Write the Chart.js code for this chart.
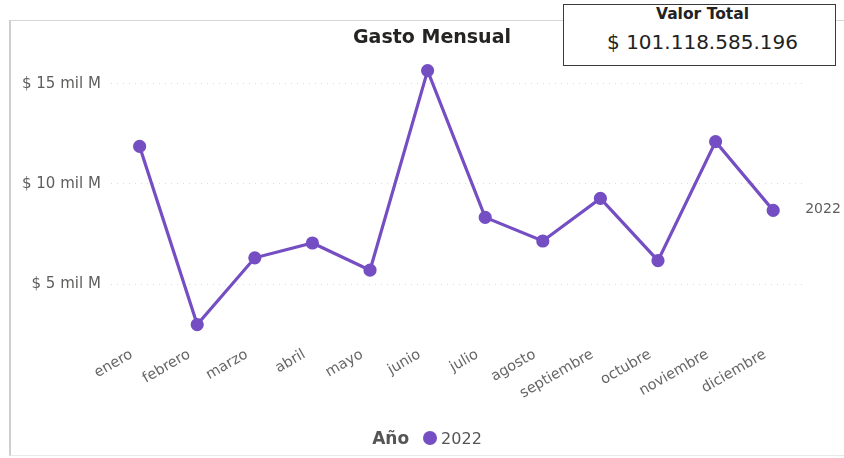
<!DOCTYPE html>
<html>
<head>
<meta charset="utf-8">
<script src="https://cdn.jsdelivr.net/npm/chart.js@4"></script>
<style>
  html, body { margin: 0; padding: 0; background: #fff; }
  #wrap { position: relative; width: 844px; height: 458px; overflow: hidden; font-family: "DejaVu Sans", sans-serif; }
  #frame { position: absolute; left: 9px; top: 20px; width: 835px; height: 436px; border-left: 2px solid #cfcfcf; border-top: 1px solid #d6d6d6; border-bottom: 1px solid #e8e8e8; box-sizing: border-box; }
  canvas { position: absolute; left: 0; top: 0; }
  #title { position: absolute; left: 0; width: 864px; top: 24px; text-align: center; font-weight: bold; font-size: 19px; color: #252423; line-height: 24px; }
  #legend { position: absolute; left: 5px; width: 844px; top: 428px; text-align: center; font-size: 16px; color: #555; line-height: 20px; }
  #legend b { color: #555; font-size: 17px; margin-right: 14px; }
  #legend .dot { display: inline-block; width: 14px; height: 14px; border-radius: 50%; background: #744EC2; vertical-align: -1px; margin-right: 4px; }
  #card { position: absolute; left: 563px; top: 4px; width: 273px; height: 62px; border: 1.5px solid #3a3a3a; background: #fff; box-sizing: border-box; text-align: center; color: #222; padding-left: 6px; }
  #card .t { font-weight: bold; font-size: 15.5px; margin-top: 0px; line-height: 18px; }
  #card .v { font-size: 20px; margin-top: 8px; line-height: 22px; }
</style>
</head>
<body>
<div id="wrap">
  <div id="frame"></div>
  <canvas id="c" width="844" height="458"></canvas>
  <div id="title">Gasto Mensual</div>
  <div id="legend"><b>Año</b><span class="dot"></span>2022</div>
  <div id="card"><div class="t">Valor Total</div><div class="v">$ 101.118.585.196</div></div>
</div>
<script>
const months = ["enero","febrero","marzo","abril","mayo","junio","julio","agosto","septiembre","octubre","noviembre","diciembre"];
const gasto2022 = [11.88, 2.97, 6.31, 7.05, 5.69, 15.67, 8.33, 7.15, 9.28, 6.17, 12.12, 8.68]; // mil M
const yTicks = [5, 10, 15];
const seriesName = "2022";
const purple = "#744EC2";

const endLabel = {
  id: 'endLabel',
  afterDatasetsDraw(chart) {
    const ctx = chart.ctx;
    const meta = chart.getDatasetMeta(0);
    const last = meta.data[meta.data.length - 1];
    ctx.save();
    ctx.font = '14px "DejaVu Sans", sans-serif';
    ctx.fillStyle = '#605e5c';
    ctx.textBaseline = 'middle';
    ctx.textAlign = 'left';
    ctx.fillText(seriesName, last.x + 32, last.y - 1);
    ctx.restore();
  }
};

new Chart(document.getElementById('c'), {
  type: 'line',
  data: {
    labels: months,
    datasets: [{
      label: seriesName,
      data: gasto2022,
      borderColor: purple,
      backgroundColor: purple,
      borderWidth: 3.2,
      pointRadius: 5,
      pointHoverRadius: 5,
      pointBackgroundColor: purple,
      pointBorderColor: purple,
      tension: 0
    }]
  },
  options: {
    responsive: false,
    animation: false,
    devicePixelRatio: 1,
    layout: { padding: { left: 12, right: 42, top: 60, bottom: 50 } },
    plugins: {
      title: { display: false },
      legend: { display: false },
      tooltip: { enabled: false }
    },
    scales: {
      x: {
        offset: true,
        grid: { display: false },
        border: { display: false },
        afterFit(scale) { scale.height = 70; },
        ticks: {
          color: '#666',
          font: { family: '"DejaVu Sans", sans-serif', size: 14.5 },
          maxRotation: 30,
          minRotation: 30,
          autoSkip: false,
          padding: 0,
          labelOffset: -8
        }
      },
      y: {
        min: 2.3,
        max: 16.2,
        afterBuildTicks(scale) { scale.ticks = yTicks.map(v => ({ value: v })); },
        grid: { color: '#d9d9d9', lineWidth: 1, drawTicks: false },
        border: { display: false, dash: [1, 5] },
        ticks: {
          color: '#605e5c',
          font: { family: '"DejaVu Sans", sans-serif', size: 15 },
          padding: 10,
          callback: v => '$ ' + v + ' mil M'
        }
      }
    }
  },
  plugins: [endLabel]
});
</script>
</body>
</html>
